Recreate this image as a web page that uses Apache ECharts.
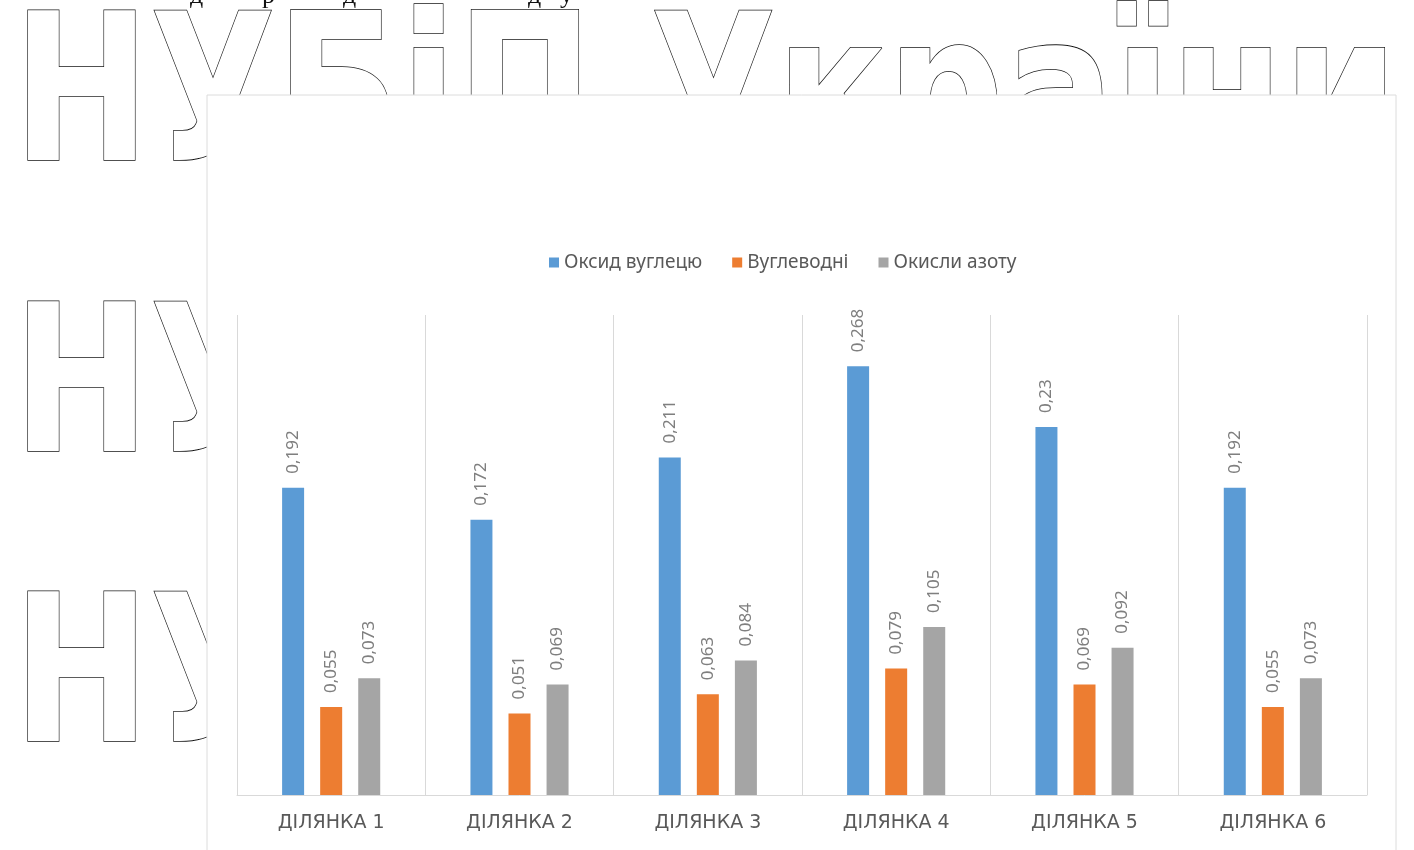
<!DOCTYPE html>
<html>
<head>
<meta charset="utf-8">
<title>Викиди шкідливих речовин по ділянках</title>
<script src="https://cdn.jsdelivr.net/npm/echarts@6/dist/echarts.min.js"></script>
<style>
  html, body { margin: 0; padding: 0; background: #ffffff; }
  #chart { width: 1414px; height: 850px; }
</style>
</head>
<body>
<div id="chart"></div>
<script>
// Categories (measurement sites)
const categories = ['ДІЛЯНКА 1', 'ДІЛЯНКА 2', 'ДІЛЯНКА 3', 'ДІЛЯНКА 4', 'ДІЛЯНКА 5', 'ДІЛЯНКА 6'];

// Series names
const seriesNames = ['Оксид вуглецю', 'Вуглеводні', 'Окисли азоту'];

// Series values
const carbonMonoxide = [0.192, 0.172, 0.211, 0.268, 0.23, 0.192];
const hydrocarbons   = [0.055, 0.051, 0.063, 0.079, 0.069, 0.055];
const nitrogenOxides = [0.073, 0.069, 0.084, 0.105, 0.092, 0.073];

// Background lettering
const watermarkText = 'НУБіП України';
const watermarkRows = [107, 398, 688];

const colors = ['#5B9BD5', '#ED7D31', '#A5A5A5'];

const chart = echarts.init(document.getElementById('chart'));

// Horizontal scale so the background lettering spans the page width
const WM_FONT = 'bold 205px "DejaVu Sans"';
const measureCtx = document.createElement('canvas').getContext('2d');
measureCtx.font = WM_FONT;
const wmScale = 1385 / measureCtx.measureText(watermarkText).width;

const graphics = [];
watermarkRows.forEach(function (cy) {
  graphics.push({
    type: 'text',
    x: 13,
    y: cy,
    scaleX: wmScale,
    z: -10,
    silent: true,
    style: {
      x: 0, y: 0,
      text: watermarkText,
      font: WM_FONT,
      fill: '#ffffff',
      stroke: '#111111',
      lineWidth: 1.6,
      lineJoin: 'round',
      align: 'left',
      verticalAlign: 'middle'
    }
  });
});

// Lower edge of the preceding text line
[['д', 190], ['р', 262], ['д', 343], ['д', 528], ['у', 560]].forEach(function (p) {
  graphics.push({
    type: 'text', x: p[1], y: -4, z: -10, silent: true,
    style: { text: p[0], font: '26px "Liberation Serif"', fill: '#111111',
             align: 'left', verticalAlign: 'middle' }
  });
});

// Chart panel
graphics.push({
  type: 'rect',
  z: -5,
  silent: true,
  shape: { x: 207, y: 95, width: 1189, height: 760 },
  style: { fill: '#ffffff', stroke: '#dcdcdc', lineWidth: 1 }
});

const labelFmt = function (p) { return String(p.value).replace('.', ','); };

function makeSeries(name, data, color) {
  return {
    name: name,
    type: 'bar',
    data: data,
    barWidth: 22,
    barGap: '73%',
    itemStyle: { color: color },
    label: {
      show: true,
      position: 'top',
      distance: 14,
      rotate: 90,
      align: 'left',
      verticalAlign: 'middle',
      formatter: labelFmt,
      color: '#7f7f7f',
      fontFamily: 'Noto Sans',
      fontSize: 17
    }
  };
}

chart.setOption({
  animation: false,
  color: colors,
  graphic: graphics,
  legend: {
    data: seriesNames,
    left: 544,
    top: 248,
    icon: 'rect',
    itemWidth: 10,
    itemHeight: 10,
    itemGap: 30,
    textStyle: { color: '#595959', fontFamily: 'Noto Sans', fontSize: 19 }
  },
  grid: { left: 237, right: 47, top: 315, bottom: 55, containLabel: false },
  xAxis: {
    type: 'category',
    data: categories,
    axisLine: { lineStyle: { color: '#d9d9d9', width: 1 } },
    axisTick: { show: false },
    splitLine: { show: true, lineStyle: { color: '#d9d9d9', width: 1 } },
    axisLabel: {
      color: '#595959',
      fontFamily: 'DejaVu Sans',
      fontSize: 19,
      margin: 19
    }
  },
  yAxis: {
    type: 'value',
    min: 0,
    max: 0.3,
    interval: 0.05,
    show: false,
    splitLine: { show: false }
  },
  series: [
    makeSeries(seriesNames[0], carbonMonoxide, colors[0]),
    makeSeries(seriesNames[1], hydrocarbons, colors[1]),
    makeSeries(seriesNames[2], nitrogenOxides, colors[2])
  ]
});
</script>
</body>
</html>
